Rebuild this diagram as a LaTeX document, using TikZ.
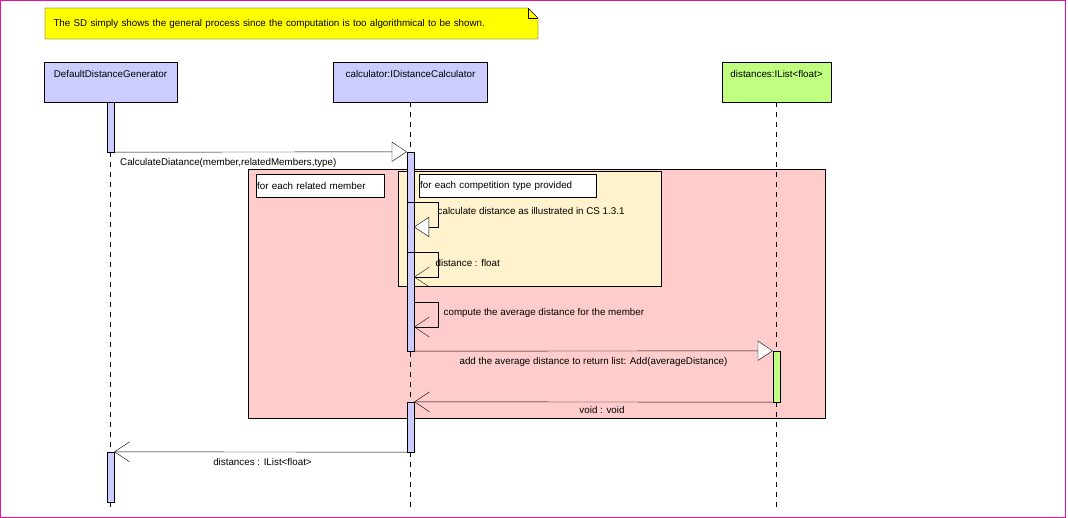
\documentclass[tikz,border=0pt]{standalone}
\usepackage{fontspec}
\setmainfont{Liberation Sans}
\usetikzlibrary{arrows.meta,calc,backgrounds}
\definecolor{headblue}{HTML}{CCCCFF}
\definecolor{listgreen}{HTML}{C0FF80}
\definecolor{noteyellow}{HTML}{FFFF00}
\definecolor{looppink}{HTML}{FFCCCC}
\definecolor{loopcream}{HTML}{FFF2CC}
\definecolor{framemag}{HTML}{E8109C}
\begin{document}
\begin{tikzpicture}[x=1pt,y=-1pt,line width=1pt,
  every node/.style={font=\fontsize{9.8}{11}\selectfont},
  headbox/.style={draw,inner sep=0pt,minimum height=40pt},
  headtext/.style={anchor=north,inner sep=0pt,yshift=-8pt},
  actbox/.style={draw,fill=headblue,inner sep=0pt,minimum width=7pt},
  lifeline/.style={dash pattern=on 5pt off 5pt},
  callmsg/.style={-{Triangle[length=15pt,width=20pt,fill=white]}},
  retmsg/.style={-{Straight Barb[length=15pt,width=20pt]}},
  loopbox/.style={draw},
  guardbox/.style={draw,fill=white,inner xsep=1pt,inner ysep=0pt,minimum height=23pt,align=left,anchor=north west},
  msglabel/.style={inner sep=0pt}
]
\useasboundingbox (0,0) rectangle (1068,518);
\draw[framemag] (0.5,0.5) rectangle (1065,517);

% note
\node[anchor=north west,inner xsep=8pt,inner ysep=0pt,minimum height=30pt,text width=476pt,align=left] (note) at (45,8)
  {The SD simply shows the general process since the computation is too algorithmical to be shown.};
\begin{pgfonlayer}{background}
\draw[fill=noteyellow] (note.north west) -- ([xshift=-10pt]note.north east) -- ([yshift=-10pt]note.north east)
  -- (note.south east) -- (note.south west) -- cycle;
\draw ([xshift=-10pt]note.north east) -- ([xshift=-10pt,yshift=-10pt]note.north east) -- ([yshift=-10pt]note.north east);
\end{pgfonlayer}

% lifeline heads
\node[headbox,fill=headblue,minimum width=133pt] (ddg) at (110.5,82) {};
\node[headtext] (ddgT) at (ddg.north) {DefaultDistanceGenerator};
\node[headbox,fill=headblue,minimum width=154pt] (calc) at (410.5,82) {};
\node[headtext] (calcT) at (calc.north) {calculator:IDistanceCalculator};
\node[headbox,fill=listgreen,minimum width=109pt] (list) at (776.5,82) {};
\node[headtext] (listT) at (list.north) {distances:IList<float>};

% loop fragments
\node[loopbox,fill=looppink,anchor=north west,inner sep=0pt,minimum width=576.5pt,minimum height=248.5pt] (outer) at (248,169) {};
\node[loopbox,fill=loopcream,anchor=north west,inner sep=0pt,minimum width=262.5pt,minimum height=115.5pt] (inner) at (398,171) {};
\node[guardbox,text width=126pt] (g1) at (256,174) {for each related member};
\node[guardbox,text width=175pt] (g2) at (419,174) {for each competition type provided};

% lifelines
\coordinate (ddgEnd) at (110.5,508);
\coordinate (calcEnd) at (410.5,508);
\coordinate (listEnd) at (776.5,508);
\draw[lifeline] (ddg.south) -- (ddgEnd);
\draw[lifeline] (calc.south) -- (calcEnd);
\draw[lifeline] (list.south) -- (listEnd);

% activations
\node[actbox,minimum height=50pt] (ddgA1) at (110.5,127) {};
\node[actbox,minimum height=50pt] (ddgA2) at (110.5,477) {};
\node[actbox,minimum height=199pt] (calcA1) at (410.5,251.5) {};
\node[actbox,minimum height=50pt] (calcA2) at (410.5,427) {};
\node[actbox,fill=listgreen,minimum height=51pt] (listA1) at (776.5,376.5) {};

% messages
\draw[callmsg] (ddgA1.south east) -- (calcA1.north west);
\node[msglabel,anchor=west] (m1) at (120,163) {CalculateDiatance(member,relatedMembers,type)};

\coordinate (s1a) at (407,202); \coordinate (s1b) at (438,202);
\coordinate (s1c) at (438,227); \coordinate (s1d) at (414,227);
\draw[callmsg] (s1a) -- (s1b) -- (s1c) -- (s1d);
\node[msglabel,anchor=west] (m2) at (437.5,211) {calculate distance as illustrated in CS 1.3.1};

\coordinate (s2a) at (407,252); \coordinate (s2b) at (438,252);
\coordinate (s2c) at (438,277); \coordinate (s2d) at (414,277);
\draw[retmsg] (s2a) -- (s2b) -- (s2c) -- (s2d);
\node[msglabel,anchor=west] (m3) at (435.5,263) {distance : float};

\coordinate (s3a) at (414,302); \coordinate (s3b) at (438,302);
\coordinate (s3c) at (438,327); \coordinate (s3d) at (414,327);
\draw[retmsg] (s3a) -- (s3b) -- (s3c) -- (s3d);
\node[msglabel,anchor=west] (m4) at (443.5,313) {compute the average distance for the member};

\draw[callmsg] (calcA1.south east) -- (listA1.north west);
\node[msglabel] (m5) at (593.5,362) {add the average distance to return list: Add(averageDistance)};

\draw[retmsg] (listA1.south west) -- (calcA2.north east);
\node[msglabel] (m6) at (602,409.5) {void : void};

\draw[retmsg] (calcA2.south west) -- (ddgA2.north east);
\node[msglabel] (m7) at (262.5,462) {distances : IList<float>};
\end{tikzpicture}
\end{document}
